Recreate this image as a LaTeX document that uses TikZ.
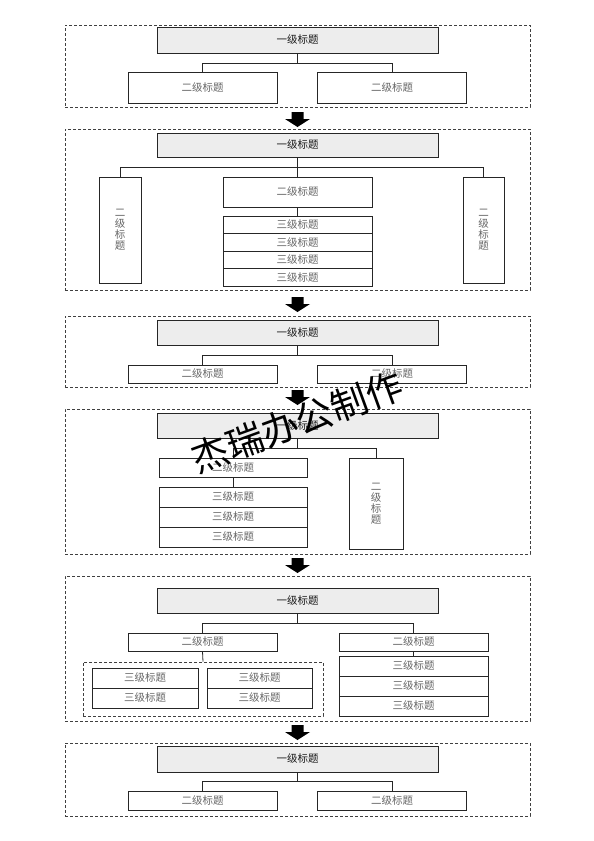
\documentclass[tikz,border=0pt]{standalone}
\usepackage{fontspec}
\setmainfont{Noto Sans CJK SC}
\newfontfamily\wmfont{Noto Sans CJK SC}
\usetikzlibrary{calc}
\newcommand\blockarrow[1]{%
  \fill[black] ($(#1)+(-6,0)$) -- ($(#1)+(6,0)$) -- ($(#1)+(6,7)$) -- ($(#1)+(12.5,7)$)
    -- ($(#1)+(0,15)$) -- ($(#1)+(-12.5,7)$) -- ($(#1)+(-6,7)$) -- cycle;}
\begin{document}
\begin{tikzpicture}[x=1pt,y=-1pt,
  frame/.style={draw=black!75, dash pattern=on 3pt off 2pt, line width=0.7pt, inner sep=0pt, rectangle},
  box/.style={draw=black!85, line width=0.8pt, inner sep=0pt, rectangle, text=black!60,
    font=\fontsize{10.5}{11}\selectfont},
  lone/.style={box, fill=black!7, text=black!90, minimum width=281pt},
  ltwo/.style={box, minimum width=149pt},
  vbox/.style={box, align=center, font=\fontsize{10.5}{11}\selectfont},
  conn/.style={draw=black!85, line width=0.8pt}]
\useasboundingbox (0,0) rectangle (594,841);
\fill[white] (0,0) rectangle (594,841);

% ---------- section 1
\node[frame, minimum width=465pt, minimum height=82pt] (f1) at (297.5,66) {};
\node[lone, minimum height=26pt] (t1) at (297.5,40) {一级标题};
\node[ltwo, minimum height=31pt] (s1a) at (202.5,87.5) {二级标题};
\node[ltwo, minimum height=31pt] (s1b) at (392,87.5) {二级标题};
\coordinate (j1) at (297.5,63);
\draw[conn] (t1.south) -- (j1) -| (s1a.north);
\draw[conn] (j1) -| (s1b.north);

\coordinate (a1) at (297.5,112);
\blockarrow{a1}

% ---------- section 2
\node[frame, minimum width=465pt, minimum height=161pt] (f2) at (297.5,209.5) {};
\node[lone, minimum height=24pt] (t2) at (297.5,145) {一级标题};
\node[vbox, minimum width=42pt, minimum height=106pt] (v2a) at (120,230) {二\\级\\标\\题};
\node[ltwo, minimum height=30pt] (s2) at (297.5,192) {二级标题};
\node[vbox, minimum width=41pt, minimum height=106pt] (v2b) at (483.5,230) {二\\级\\标\\题};
\node[ltwo, minimum height=17.5pt] (r2a) at (297.5,224.75) {三级标题};
\node[ltwo, minimum height=17.5pt] (r2b) at (297.5,242.25) {三级标题};
\node[ltwo, minimum height=17.5pt] (r2c) at (297.5,259.75) {三级标题};
\node[ltwo, minimum height=17.5pt] (r2d) at (297.5,277.25) {三级标题};
\coordinate (j2) at (297.5,167);
\draw[conn] (t2.south) -- (s2.north);
\draw[conn] (j2) -| (v2a.north);
\draw[conn] (j2) -| (v2b.north);
\draw[conn] (s2.south) -- (r2a.north);

\coordinate (a2) at (297.5,297);
\blockarrow{a2}

% ---------- section 3
\node[frame, minimum width=465pt, minimum height=71pt] (f3) at (297.5,351.5) {};
\node[lone, minimum height=25pt] (t3) at (297.5,332.5) {一级标题};
\node[ltwo, minimum height=18pt] (s3a) at (202.5,374) {二级标题};
\node[ltwo, minimum height=18pt] (s3b) at (392,374) {二级标题};
\coordinate (j3) at (297.5,355);
\draw[conn] (t3.south) -- (j3) -| (s3a.north);
\draw[conn] (j3) -| (s3b.north);

\coordinate (a3) at (297.5,390);
\blockarrow{a3}

% ---------- section 4
\node[frame, minimum width=465pt, minimum height=145pt] (f4) at (297.5,481.5) {};
\node[lone, minimum height=25pt] (t4) at (297.5,425.5) {一级标题};
\node[box, minimum width=148pt, minimum height=19pt] (s4) at (233,467.5) {二级标题};
\node[box, minimum width=148pt, minimum height=20pt] (r4a) at (233,497) {三级标题};
\node[box, minimum width=148pt, minimum height=20pt] (r4b) at (233,517) {三级标题};
\node[box, minimum width=148pt, minimum height=20pt] (r4c) at (233,537) {三级标题};
\node[vbox, minimum width=54pt, minimum height=91pt] (v4) at (376,503.5) {二\\级\\标\\题};
\coordinate (j4) at (297.5,448);
\draw[conn] (t4.south) -- (j4) -| (s4.north);
\draw[conn] (j4) -| (v4.north);
\draw[conn] (s4.south) -- (r4a.north);

\coordinate (a4) at (297.5,558);
\blockarrow{a4}

% ---------- section 5
\node[frame, minimum width=465pt, minimum height=145pt] (f5) at (297.5,648.5) {};
\node[lone, minimum height=25pt] (t5) at (297.5,600.5) {一级标题};
\node[ltwo, minimum height=18pt] (s5a) at (202.5,642) {二级标题};
\node[ltwo, minimum height=18pt] (s5b) at (413.5,642) {二级标题};
\node[frame, minimum width=240pt, minimum height=54pt] (g5) at (203,689) {};
\node[box, minimum width=106pt, minimum height=20pt] (p5a) at (145,678) {三级标题};
\node[box, minimum width=106pt, minimum height=20pt] (p5b) at (145,698) {三级标题};
\node[box, minimum width=105pt, minimum height=20pt] (q5a) at (259.5,678) {三级标题};
\node[box, minimum width=105pt, minimum height=20pt] (q5b) at (259.5,698) {三级标题};
\node[ltwo, minimum height=20pt] (r5a) at (413.5,666) {三级标题};
\node[ltwo, minimum height=20pt] (r5b) at (413.5,686) {三级标题};
\node[ltwo, minimum height=20pt] (r5c) at (413.5,706) {三级标题};
\coordinate (j5) at (297.5,623);
\draw[conn] (t5.south) -- (j5) -| (s5a.north);
\draw[conn] (j5) -| (s5b.north);
\draw[conn] (s5a.south) -- (g5.north);
\draw[conn] (s5b.south) -- (r5a.north);

\coordinate (a5) at (297.5,725);
\blockarrow{a5}

% ---------- section 6
\node[frame, minimum width=465pt, minimum height=73pt] (f6) at (297.5,779.5) {};
\node[lone, minimum height=26pt] (t6) at (297.5,759) {一级标题};
\node[ltwo, minimum height=19pt] (s6a) at (202.5,800.5) {二级标题};
\node[ltwo, minimum height=19pt] (s6b) at (392,800.5) {二级标题};
\coordinate (j6) at (297.5,781);
\draw[conn] (t6.south) -- (j6) -| (s6a.north);
\draw[conn] (j6) -| (s6b.north);

% ---------- watermark
\node[rotate=20, inner sep=0pt, text=black, font=\wmfont\fontsize{37}{39}\selectfont] (wm) at (297,422) {杰瑞办公制作};
\end{tikzpicture}
\end{document}
